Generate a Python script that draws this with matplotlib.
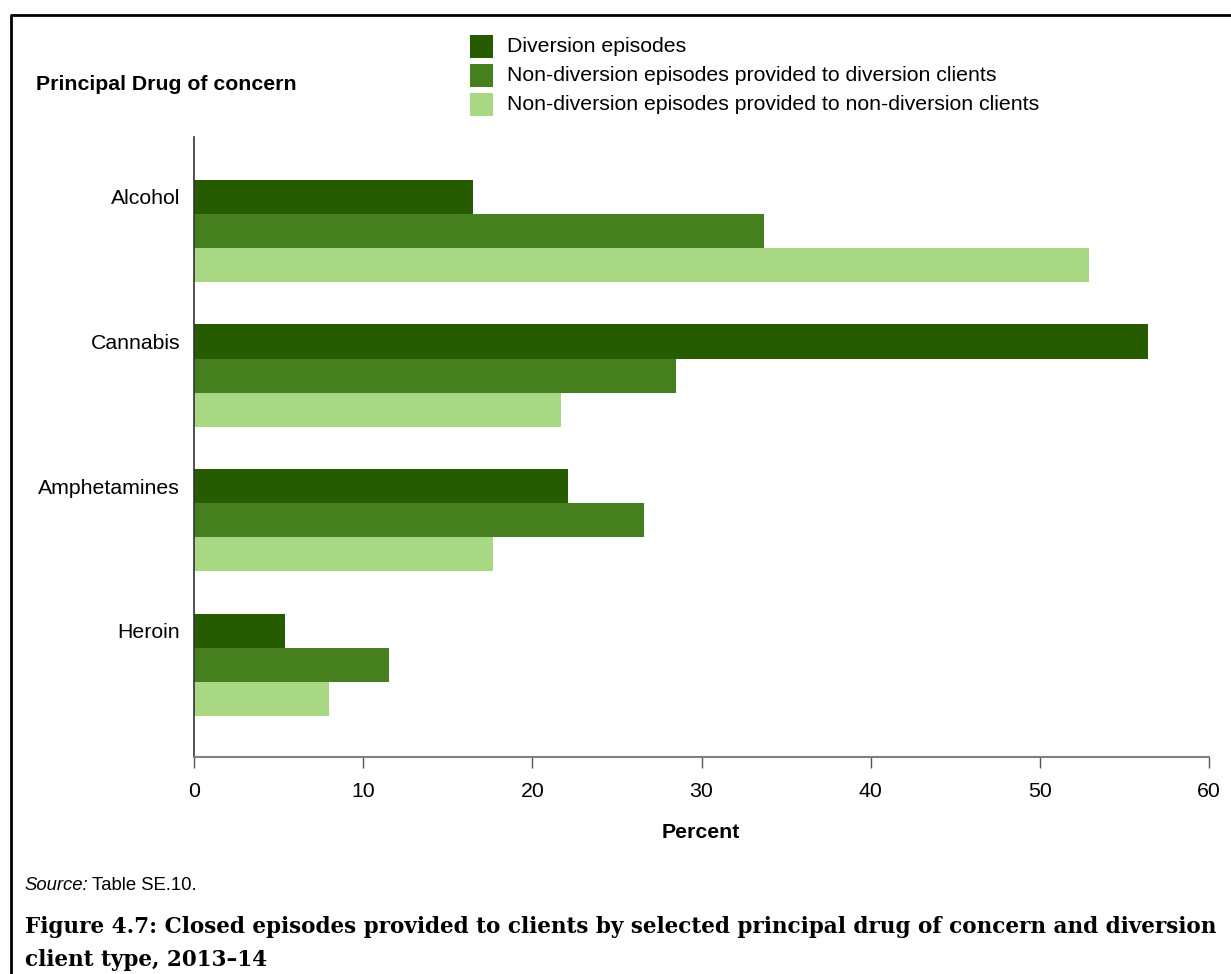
import numpy as np
import matplotlib.pyplot as plt
from matplotlib.lines import Line2D
from matplotlib.patches import Rectangle

drugs = ["Alcohol", "Cannabis", "Amphetamines", "Heroin"]
series_names = [
    "Diversion episodes",
    "Non-diversion episodes provided to diversion clients",
    "Non-diversion episodes provided to non-diversion clients",
]
diversion = [16.5, 56.4, 22.1, 5.4]
nondiv_div_clients = [33.7, 28.5, 26.6, 11.5]
nondiv_nondiv_clients = [52.9, 21.7, 17.7, 8.0]
x_ticks = [0, 10, 20, 30, 40, 50, 60]

colors = ["#275b00", "#467f1e", "#a8d883"]

W, H = 1231, 974
FS = 15.3
plt.rcParams['font.family'] = ['Liberation Sans', 'DejaVu Sans']

fig = plt.figure(figsize=(W / 100, H / 100), dpi=100)

def fx(px):
    return px / W

def fy(py):
    return 1 - py / H

ax = fig.add_axes([fx(194), fy(757), fx(1209) - fx(194), fy(137) - fy(757)])

h = 34 / 144.5
ypos = np.arange(len(drugs))
for k, vals in enumerate([diversion, nondiv_div_clients, nondiv_nondiv_clients]):
    ax.barh(ypos + k * h, vals, height=h, color=colors[k], linewidth=0)

ax.set_xlim(0, 60)
ax.set_ylim(3.875, -0.415)
ax.set_xticks(x_ticks)
ax.set_xticklabels([str(t) for t in x_ticks], fontsize=FS)
ax.set_yticks(ypos)
ax.set_yticklabels(drugs, fontsize=FS)
ax.tick_params(axis='y', length=0, pad=10)
ax.tick_params(axis='x', length=8, width=1, color='#555555', pad=10, direction='out')
for s in ['top', 'right']:
    ax.spines[s].set_visible(False)
ax.spines['bottom'].set_color('#808080')
ax.spines['bottom'].set_linewidth(1.5)
ax.spines['left'].set_color('#333333')
ax.spines['left'].set_linewidth(1.2)

# legend drawn by hand as squares + text
for k, name in enumerate(series_names):
    top = 35 + k * 29
    fig.patches.append(Rectangle((fx(470), fy(top + 23)), fx(23), fy(top) - fy(top + 23),
                                 transform=fig.transFigure, color=colors[k], linewidth=0))
    fig.text(fx(507), fy(top + 11.5), name, fontsize=FS, va='center', ha='left')

fig.text(fx(36), fy(84), "Principal Drug of concern", fontsize=FS, fontweight='bold',
         va='center', ha='left')
fig.text(fx(701), fy(832), "Percent", fontsize=FS, fontweight='bold', va='center', ha='center')

src = fig.text(fx(24), fy(886), "Source:", fontsize=13.3, style='italic', va='center', ha='left')
fig.canvas.draw()
bb = src.get_window_extent()
fig.text(bb.x1 / W + fx(4), fy(886), "Table SE.10.", fontsize=13.3, va='center', ha='left')

# caption, sized to the reference width
cap1 = "Figure 4.7: Closed episodes provided to clients by selected principal drug of concern and diversion"
cap2 = "client type, 2013\u201314"
t1 = fig.text(fx(25), fy(927), cap1, fontsize=18, fontweight='bold', family=['DejaVu Serif'],
              va='center', ha='left')
fig.canvas.draw()
w = t1.get_window_extent().width
size = 18 * (1193 / w)
t1.set_fontsize(size)
fig.text(fx(25), fy(960), cap2, fontsize=size, fontweight='bold', family=['DejaVu Serif'],
         va='center', ha='left')

# frame around the figure
fig.lines.append(Line2D([fx(11), fx(11), fx(1230)], [0, fy(15), fy(15)],
                        transform=fig.transFigure, color='black', linewidth=2))

fig.savefig("out.png", dpi=100)
